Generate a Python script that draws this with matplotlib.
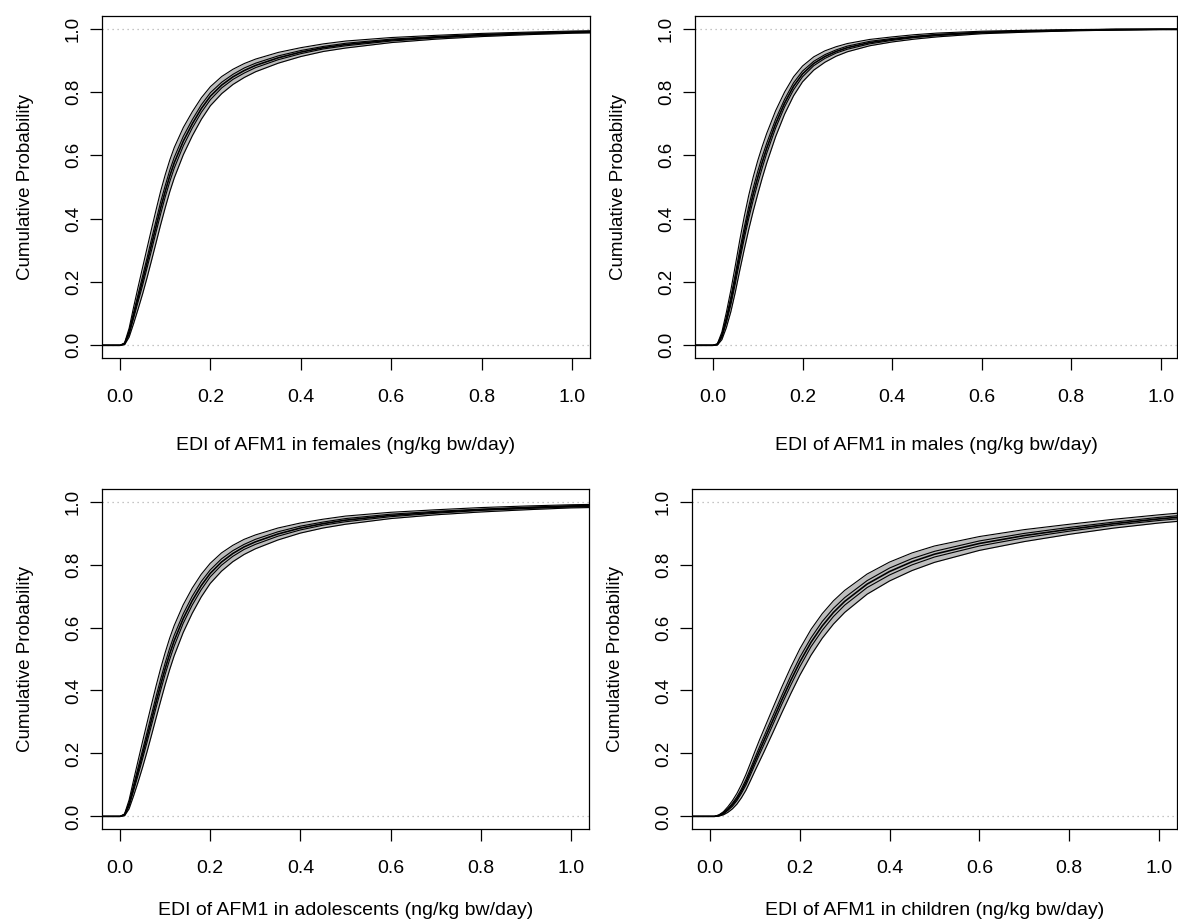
import matplotlib
matplotlib.use("Agg")
import matplotlib.pyplot as plt

plt.rcParams['font.family'] = ['Liberation Sans', 'DejaVu Sans']

# --- valores (EDI, ng/kg bw/day) ---
x_edi = [-0.04, 0.0, 0.01, 0.02, 0.03, 0.04, 0.05, 0.06, 0.07, 0.08, 0.09, 0.10, 0.11, 0.12,
         0.14, 0.16, 0.18, 0.20, 0.225, 0.25, 0.275, 0.30, 0.35, 0.40, 0.45, 0.50,
         0.60, 0.70, 0.80, 0.90, 1.00, 1.04]

# mujeres
fem_med = [0, 0, 0.005, 0.04, 0.095, 0.15, 0.205, 0.262, 0.32, 0.378, 0.435, 0.487, 0.535, 0.577,
           0.645, 0.70, 0.748, 0.787, 0.822, 0.848, 0.868, 0.884, 0.908, 0.926, 0.94, 0.95,
           0.964, 0.973, 0.98, 0.985, 0.989, 0.99]
fem_lo95 = [0, 0, 0.002, 0.026, 0.069, 0.115, 0.163, 0.215, 0.27, 0.326, 0.382, 0.435, 0.485, 0.529,
            0.602, 0.662, 0.714, 0.757, 0.795, 0.824, 0.846, 0.864, 0.891, 0.912, 0.928, 0.939,
            0.956, 0.967, 0.975, 0.981, 0.9855, 0.9865]
fem_hi95 = [0, 0, 0.008, 0.054, 0.121, 0.185, 0.247, 0.309, 0.37, 0.43, 0.488, 0.539, 0.585, 0.625,
            0.688, 0.738, 0.782, 0.817, 0.849, 0.872, 0.89, 0.904, 0.925, 0.94, 0.952, 0.961,
            0.972, 0.979, 0.985, 0.989, 0.9925, 0.9935]
fem_lo35 = [0, 0, 0.004, 0.035, 0.086, 0.138, 0.19, 0.246, 0.302, 0.36, 0.416, 0.469, 0.517, 0.56,
            0.63, 0.687, 0.736, 0.776, 0.813, 0.84, 0.86, 0.877, 0.902, 0.921, 0.936, 0.946,
            0.961, 0.971, 0.978, 0.984, 0.988, 0.989]
fem_hi35 = [0, 0, 0.006, 0.045, 0.104, 0.162, 0.22, 0.278, 0.338, 0.396, 0.454, 0.505, 0.553, 0.594,
            0.66, 0.713, 0.76, 0.798, 0.831, 0.856, 0.876, 0.891, 0.914, 0.931, 0.944, 0.954,
            0.967, 0.975, 0.982, 0.986, 0.99, 0.991]

# hombres
mal_med = [0, 0, 0.003, 0.03, 0.08, 0.14, 0.21, 0.285, 0.355, 0.42, 0.478, 0.53, 0.578, 0.622,
           0.70, 0.765, 0.818, 0.857, 0.89, 0.912, 0.928, 0.94, 0.956, 0.966, 0.974, 0.98,
           0.988, 0.992, 0.995, 0.997, 0.998, 0.998]
mal_lo95 = [0, 0, 0.001, 0.018, 0.056, 0.106, 0.168, 0.237, 0.303, 0.366, 0.424, 0.477, 0.528, 0.575,
            0.659, 0.73, 0.788, 0.832, 0.869, 0.894, 0.913, 0.927, 0.946, 0.958, 0.967, 0.974,
            0.984, 0.989, 0.993, 0.9955, 0.997, 0.997]
mal_hi95 = [0, 0, 0.005, 0.042, 0.104, 0.174, 0.252, 0.333, 0.407, 0.474, 0.532, 0.583, 0.628, 0.669,
            0.741, 0.80, 0.848, 0.882, 0.911, 0.93, 0.943, 0.953, 0.966, 0.974, 0.981, 0.986,
            0.992, 0.995, 0.997, 0.9985, 0.999, 0.999]
mal_lo35 = [0, 0, 0.002, 0.026, 0.072, 0.128, 0.195, 0.268, 0.337, 0.401, 0.459, 0.511, 0.56, 0.606,
            0.686, 0.753, 0.807, 0.848, 0.883, 0.906, 0.923, 0.935, 0.952, 0.963, 0.972, 0.978,
            0.987, 0.991, 0.994, 0.996, 0.998, 0.998]
mal_hi35 = [0, 0, 0.004, 0.034, 0.088, 0.152, 0.225, 0.302, 0.373, 0.439, 0.497, 0.549, 0.596, 0.638,
            0.714, 0.777, 0.829, 0.866, 0.897, 0.918, 0.933, 0.945, 0.96, 0.969, 0.976, 0.982,
            0.989, 0.993, 0.996, 0.998, 0.998, 0.998]

# adolescentes
ado_med = [0, 0, 0.005, 0.038, 0.09, 0.143, 0.197, 0.252, 0.308, 0.364, 0.418, 0.469, 0.516, 0.558,
           0.628, 0.685, 0.733, 0.772, 0.808, 0.835, 0.856, 0.872, 0.897, 0.916, 0.93, 0.941,
           0.956, 0.966, 0.974, 0.98, 0.985, 0.986]
ado_lo95 = [0, 0, 0.002, 0.024, 0.065, 0.109, 0.156, 0.206, 0.259, 0.313, 0.366, 0.418, 0.466, 0.51,
            0.584, 0.645, 0.697, 0.74, 0.779, 0.809, 0.832, 0.85, 0.878, 0.90, 0.916, 0.928,
            0.946, 0.958, 0.967, 0.974, 0.98, 0.981]
ado_hi95 = [0, 0, 0.008, 0.052, 0.115, 0.177, 0.238, 0.298, 0.357, 0.415, 0.47, 0.52, 0.566, 0.606,
            0.672, 0.725, 0.769, 0.804, 0.837, 0.861, 0.88, 0.894, 0.916, 0.932, 0.944, 0.954,
            0.966, 0.974, 0.981, 0.986, 0.99, 0.991]
ado_lo35 = [0, 0, 0.004, 0.033, 0.081, 0.131, 0.183, 0.236, 0.291, 0.346, 0.40, 0.451, 0.498, 0.541,
            0.613, 0.671, 0.72, 0.761, 0.798, 0.826, 0.848, 0.864, 0.89, 0.91, 0.925, 0.936,
            0.952, 0.963, 0.972, 0.978, 0.983, 0.984]
ado_hi35 = [0, 0, 0.006, 0.043, 0.099, 0.155, 0.211, 0.268, 0.325, 0.382, 0.436, 0.487, 0.534, 0.575,
            0.643, 0.699, 0.746, 0.783, 0.818, 0.844, 0.864, 0.88, 0.904, 0.922, 0.935, 0.946,
            0.96, 0.969, 0.976, 0.982, 0.987, 0.988]

# ninos
chi_med = [0, 0, 0, 0.003, 0.01, 0.022, 0.037, 0.056, 0.08, 0.108, 0.141, 0.175, 0.208, 0.24,
           0.305, 0.37, 0.432, 0.49, 0.553, 0.605, 0.648, 0.683, 0.738, 0.778, 0.809, 0.833,
           0.867, 0.892, 0.912, 0.93, 0.945, 0.95]
chi_lo95 = [0, 0, 0, 0.001, 0.005, 0.013, 0.024, 0.039, 0.059, 0.083, 0.113, 0.144, 0.174, 0.204,
            0.266, 0.329, 0.39, 0.448, 0.512, 0.566, 0.611, 0.648, 0.706, 0.748, 0.781, 0.807,
            0.845, 0.873, 0.896, 0.916, 0.932, 0.937]
chi_hi95 = [0, 0, 0, 0.005, 0.015, 0.031, 0.05, 0.073, 0.101, 0.133, 0.169, 0.206, 0.242, 0.276,
            0.344, 0.411, 0.474, 0.532, 0.594, 0.644, 0.685, 0.718, 0.77, 0.808, 0.837, 0.859,
            0.889, 0.911, 0.928, 0.944, 0.958, 0.963]
chi_lo35 = [0, 0, 0, 0.002, 0.008, 0.019, 0.032, 0.05, 0.073, 0.099, 0.131, 0.164, 0.196, 0.227,
            0.291, 0.356, 0.417, 0.475, 0.539, 0.591, 0.635, 0.671, 0.727, 0.767, 0.799, 0.824,
            0.859, 0.885, 0.906, 0.925, 0.94, 0.945]
chi_hi35 = [0, 0, 0, 0.004, 0.012, 0.025, 0.042, 0.062, 0.087, 0.117, 0.151, 0.186, 0.22, 0.253,
            0.319, 0.384, 0.447, 0.505, 0.567, 0.619, 0.661, 0.695, 0.749, 0.789, 0.819, 0.842,
            0.875, 0.899, 0.918, 0.935, 0.95, 0.955]

grupos = ['females', 'males', 'adolescents', 'children']
curvas = [
    (fem_lo95, fem_lo35, fem_med, fem_hi35, fem_hi95),
    (mal_lo95, mal_lo35, mal_med, mal_hi35, mal_hi95),
    (ado_lo95, ado_lo35, ado_med, ado_hi35, ado_hi95),
    (chi_lo95, chi_lo35, chi_med, chi_hi35, chi_hi95),
]
ticks = [0.0, 0.2, 0.4, 0.6, 0.8, 1.0]

# posiciones de los paneles en pixeles: izquierda, derecha, arriba, abajo
W, H = 1178, 922
paneles = [(102, 590, 16, 358), (695, 1177, 16, 358),
           (102, 589, 489, 829), (692, 1177, 489, 829)]
xlims = [(-0.04, 1.04), (-0.04, 1.036), (-0.04, 1.04), (-0.04, 1.04)]
pads_xlabel = [22, 22, 18, 18]

fig = plt.figure(figsize=(W / 100, H / 100), dpi=100)

for i, grupo in enumerate(grupos):
    l, r, t, b = paneles[i]
    ax = fig.add_axes([l / W, 1 - b / H, (r - l) / W, (b - t) / H])
    lo95, lo35, med, hi35, hi95 = curvas[i]

    ax.axhline(0, color='#B3B3B3', ls=(0, (1, 3)), lw=0.9, zorder=1)
    ax.axhline(1, color='#B3B3B3', ls=(0, (1, 3)), lw=0.9, zorder=1)
    ax.fill_between(x_edi, lo95, hi95, color='#BEBEBE', lw=0, zorder=2)
    for c in (lo95, lo35, hi35, hi95):
        ax.plot(x_edi, c, color='black', lw=0.8, zorder=3)
    ax.plot(x_edi, med, color='black', lw=1.2, zorder=4)

    ax.set_xlim(*xlims[i])
    ax.set_ylim(-0.04, 1.04)
    ax.set_xticks(ticks)
    ax.set_yticks(ticks)
    ax.set_xticklabels([f'{v:.1f}' for v in ticks])
    ax.set_yticklabels([f'{v:.1f}' for v in ticks])
    ax.tick_params(direction='out', length=8.5, width=0.9, labelsize=13.5)
    ax.tick_params(axis='x', pad=14, labelsize=14)
    ax.tick_params(axis='y', pad=6)
    plt.setp(ax.get_yticklabels(), rotation=90, va='center')
    for s in ax.spines.values():
        s.set_linewidth(0.9)

    ax.set_xlabel(f'EDI of AFM1 in {grupo} (ng/kg bw/day)', fontsize=14, labelpad=pads_xlabel[i])
    ax.set_ylabel('Cumulative Probability', fontsize=13.5, labelpad=22)

fig.savefig('out.png', dpi=100)
